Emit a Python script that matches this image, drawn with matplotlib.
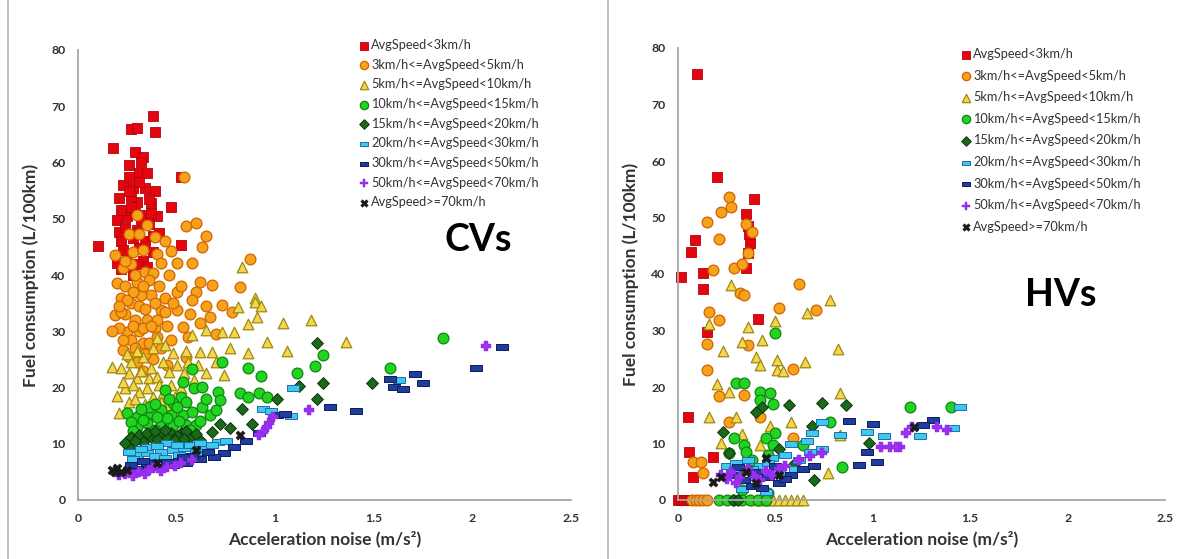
import matplotlib
matplotlib.use("Agg")
import matplotlib.pyplot as plt
from matplotlib.path import Path
from matplotlib.lines import Line2D

# ---------------- data ----------------
labels = ["AvgSpeed<3km/h", "3km/h<=AvgSpeed<5km/h", "5km/h<=AvgSpeed<10km/h",
          "10km/h<=AvgSpeed<15km/h", "15km/h<=AvgSpeed<20km/h", "20km/h<=AvgSpeed<30km/h",
          "30km/h<=AvgSpeed<50km/h", "50km/h<=AvgSpeed<70km/h", "AvgSpeed>=70km/h"]
x_ticks = [0, 0.5, 1, 1.5, 2, 2.5]
x_tick_labels = ["0", "0.5", "1", "1.5", "2", "2.5"]
y_ticks = [0, 10, 20, 30, 40, 50, 60, 70, 80]

# CVs (left panel)
cv_red = [(0.10,45.2),(0.18,62.6),(0.27,66.0),(0.30,66.2),(0.38,68.3),(0.39,65.5),(0.29,61.9),(0.33,61.0),
          (0.26,59.6),(0.31,58.2),(0.35,58.2),(0.23,56.0),(0.28,55.5),(0.39,55.0),(0.21,53.7),(0.30,53.0),
          (0.37,52.8),(0.47,52.0),(0.20,49.8),(0.25,50.4),(0.33,50.7),(0.40,50.4),(0.21,47.7),(0.30,48.0),
          (0.41,47.5),(0.52,45.4),(0.22,46.0),(0.31,44.8),(0.52,57.5),(0.27,54.0),(0.34,55.5),(0.24,51.5),
          (0.36,49.0),(0.28,46.5),(0.34,46.0),(0.38,44.0),(0.25,43.0),(0.33,42.5),(0.22,41.0),(0.28,40.0),
          (0.35,41.5),(0.26,57.5),(0.32,60.0),(0.29,51.0),(0.38,47.0),(0.20,42.2),(0.24,48.5),(0.27,52.0),
          (0.32,50.0),(0.36,53.5),(0.23,44.5),(0.30,42.0),(0.26,55.0),(0.37,51.0),(0.31,56.5),(0.22,51.5)]
cv_orange = [(0.54,57.5),(0.55,48.8),(0.60,49.3),(0.65,47.0),(0.63,45.0),(0.47,44.3),(0.50,42.2),(0.58,42.2),
             (0.87,42.9),(0.82,37.9),(0.30,50.7),(0.35,48.9),(0.26,47.2),(0.31,47.2),(0.39,46.8),(0.19,43.6),
             (0.28,44.1),(0.40,43.8),(0.42,42.2),(0.23,41.3),(0.34,40.6),(0.38,40.4),(0.62,38.8),(0.68,38.3),
             (0.20,38.6),(0.30,38.8),(0.36,39.1),(0.50,37.0),(0.60,37.0),(0.19,32.9),(0.25,29.9),(0.35,32.0),
             (0.42,33.8),(0.50,33.8),(0.53,30.8),(0.23,26.7),(0.33,27.9),(0.47,28.5),(0.67,32.6),(0.73,34.7),
             (0.58,35.6),(0.22,36.0),(0.27,35.0),(0.31,34.5),(0.37,36.5),(0.44,36.0),(0.24,33.0),(0.29,32.0),
             (0.39,30.5),(0.45,31.0),(0.21,30.5),(0.27,28.5),(0.31,30.0),(0.36,28.0),(0.42,27.0),(0.26,25.5),
             (0.30,24.5),(0.38,25.0),(0.56,29.0),(0.62,31.5),(0.65,34.5),(0.70,29.5),(0.78,33.5),(0.55,25.5),
             (0.45,24.0),(0.33,23.0),(0.41,38.0),(0.46,40.0),(0.27,42.0),(0.32,36.5),(0.17,30.0),
             (0.24,38.0),(0.28,37.0),(0.33,38.0),(0.39,35.0),(0.29,40.0),(0.25,35.5),(0.34,34.0),(0.40,32.0),
             (0.22,33.5),(0.28,31.0),(0.33,30.5),(0.37,31.0),(0.23,28.5),(0.29,27.0),(0.34,26.0),(0.40,29.0),
             (0.44,33.5),(0.48,35.0),(0.52,38.0),(0.57,33.0),(0.24,42.5),(0.33,44.5),(0.44,46.0),(0.21,34.5)]
cv_tri = [(0.83,41.5),(0.90,35.9),(0.81,34.3),(0.90,35.2),(0.93,34.5),(0.86,31.3),(0.91,32.6),(1.04,31.5),
          (1.18,32.0),(1.36,28.1),(0.96,28.1),(1.06,26.5),(0.77,27.0),(0.86,26.2),(0.73,29.9),(0.79,29.9),
          (0.68,26.3),(0.62,26.3),(0.55,26.5),(0.48,26.2),(0.17,23.7),(0.22,23.5),(0.74,22.2),(0.54,22.6),
          (0.59,21.4),(0.30,21.7),(0.36,21.7),(0.40,21.9),(0.46,22.8),(0.24,19.9),(0.31,19.2),(0.38,18.3),
          (0.43,19.0),(0.49,18.3),(0.21,15.5),(0.31,16.0),(0.40,28.8),(0.58,29.4),(0.65,30.2),(0.27,24.5),
          (0.33,25.5),(0.43,24.5),(0.28,20.5),(0.35,20.0),(0.26,17.5),(0.34,17.0),(0.45,16.5),(0.52,20.0),
          (0.61,24.0),(0.70,24.5),(0.50,24.0),(0.26,22.5),(0.32,23.0),(0.23,21.0),(0.29,18.0),(0.37,23.5),
          (0.41,20.5),(0.47,20.5),(0.25,26.0),(0.30,26.5),(0.38,27.0),(0.44,27.5),(0.56,24.5),(0.65,22.5),
          (0.20,18.5),(0.35,15.5),(0.42,17.5)]
cv_green = [(0.58,23.3),(0.73,24.6),(0.86,23.5),(0.93,22.1),(1.11,22.6),(1.20,23.8),(1.24,25.8),(0.53,21.0),
            (0.59,19.9),(0.63,20.1),(0.71,19.2),(0.72,17.8),(0.82,19.0),(0.86,18.3),(0.92,19.0),(0.96,18.3),
            (0.44,19.6),(0.52,18.3),(0.48,17.2),(0.63,16.5),(0.67,15.1),(0.70,16.0),(0.25,15.5),(0.30,14.8),
            (0.37,15.5),(0.42,16.0),(0.47,15.1),(0.53,15.1),(0.58,15.7),(0.35,13.7),(0.42,13.7),(0.48,13.3),
            (0.55,13.3),(0.60,13.3),(0.30,13.0),(0.39,12.5),(1.85,28.8),(1.58,23.5),(0.33,14.2),(0.45,14.5),
            (0.51,14.0),(0.57,12.5),(0.40,14.8),(0.27,13.8),(0.36,16.5),(0.62,14.0),(0.55,17.5),(0.46,18.0),
            (0.50,16.5),(0.65,18.0),(0.39,17.0),(0.32,16.2),(0.28,12.3)]
cv_dgreen = [(1.21,27.9),(1.24,20.8),(1.21,18.0),(1.12,20.3),(1.01,18.0),(0.83,16.2),(0.77,12.8),(0.68,12.1),
             (0.62,10.7),(0.27,11.2),(0.31,11.6),(0.37,11.2),(0.42,11.6),(0.47,11.9),(0.52,11.9),(0.57,11.2),
             (0.33,10.3),(0.26,9.4),(1.49,20.8),(0.29,10.5),(0.35,12.0),(0.40,10.8),(0.45,11.0),(0.50,11.3),
             (0.55,12.2),(0.60,11.8),(0.72,13.5),(0.88,13.5),(0.24,10.2),(0.39,12.3),(0.44,12.5),(0.49,10.6),
             (0.54,10.8)]
cv_lblue = [(1.09,19.9),(0.94,16.2),(1.08,15.0),(0.71,10.3),(0.30,8.0),(0.35,8.4),(0.42,8.5),(0.48,8.9),
            (0.54,9.2),(0.60,8.5),(0.65,9.2),(0.35,9.4),(0.45,10.1),(1.63,21.4),(0.28,7.3),(0.39,7.8),
            (0.51,8.0),(0.57,9.8),(0.68,9.8),(0.75,10.5),(0.98,15.8),(0.32,9.0),(0.44,7.5),(0.40,9.6),
            (0.50,9.7),(0.26,8.6),(0.62,10.2)]
cv_dblue = [(1.28,16.5),(1.41,15.8),(0.92,11.9),(0.79,9.4),(0.74,8.4),(0.69,7.7),(0.62,7.3),(0.55,6.6),
            (0.48,6.2),(0.42,5.9),(0.35,6.0),(1.01,15.1),(1.58,21.5),(1.60,20.1),(1.65,19.7),(1.71,22.4),
            (1.75,20.8),(2.02,23.5),(2.15,27.2),(0.30,5.5),(0.38,6.5),(0.51,7.0),(0.58,7.8),(0.66,8.5),
            (0.85,10.5),(1.05,15.3),(0.45,6.8),(0.53,7.6),(0.27,6.3),(0.33,7.0)]
cv_purple = [(1.17,16.0),(0.99,14.8),(0.97,13.7),(0.96,13.0),(0.94,12.1),(0.21,4.4),(0.26,5.0),(0.31,5.0),
             (0.38,5.7),(0.45,5.9),(0.52,6.6),(0.58,7.1),(2.07,27.4),(0.92,11.5),(0.34,4.6),(0.42,5.2),
             (0.28,4.2),(0.49,6.0),(0.24,4.6),(0.36,5.3)]
cv_black = [(0.17,5.3),(0.20,5.7),(0.25,5.3),(0.82,11.6),(0.60,8.9),(0.40,6.6),(0.22,5.0),(0.19,5.0)]

# HVs (right panel)
hv_red = [(0.10,75.4),(0.20,57.2),(0.39,53.3),(0.35,50.6),(0.37,45.5),(0.36,43.7),(0.087,46.0),(0.067,43.9),
          (0.35,41.1),(0.13,40.2),(0.015,39.5),(0.13,37.3),(0.41,32.0),(0.15,29.7),(0.05,14.7),(0.056,8.5),
          (0.18,7.6),(0.077,4.1),(0.36,48.5),(0.365,47.0),(0.0,0),(0.015,0),(0.03,0),(0.045,0),(0.06,0)]
hv_orange = [(0.26,53.6),(0.27,51.9),(0.22,51.0),(0.15,49.2),(0.35,48.8),(0.38,47.4),(0.21,46.2),(0.36,43.7),
             (0.18,40.7),(0.29,41.1),(0.33,41.8),(0.62,38.2),(0.52,34.0),(0.71,33.6),(0.16,33.3),(0.21,31.9),
             (0.15,27.6),(0.36,27.4),(0.15,23.0),(0.59,23.2),(0.21,18.4),(0.34,18.6),(0.26,13.8),(0.42,14.7),
             (0.59,11.0),(0.077,6.7),(0.12,6.7),(0.13,4.8),(0.32,36.6),(0.34,36.2),
             (0.07,0),(0.09,0),(0.11,0),(0.13,0),(0.15,0)]
hv_tri = [(0.27,38.0),(0.78,35.4),(0.66,33.1),(0.50,31.7),(0.36,30.6),(0.16,31.2),(0.43,28.3),(0.33,28.0),
          (0.23,26.4),(0.82,26.7),(0.40,25.3),(0.51,24.8),(0.65,24.4),(0.42,23.9),(0.51,23.0),(0.54,22.8),
          (0.20,20.5),(0.26,19.1),(0.83,18.9),(0.16,14.7),(0.30,14.7),(0.58,13.8),(0.47,13.1),(0.33,11.7),
          (0.22,10.1),(0.42,9.7),(0.83,11.5),(0.77,4.8),
          (0.40,0),(0.43,0),(0.46,0),(0.49,0),(0.52,0),(0.55,0),(0.58,0),(0.61,0),(0.64,0)]
hv_green = [(0.50,29.6),(0.30,20.7),(0.34,20.7),(0.42,19.1),(0.47,18.9),(0.42,17.7),(0.49,17.0),(0.78,13.8),
            (0.50,11.9),(0.29,11.0),(0.45,11.0),(0.34,9.7),(0.49,9.7),(0.64,9.7),(0.35,8.5),(0.26,8.3),
            (0.38,7.1),(0.46,8.0),(0.84,5.8),(1.19,16.5),(1.40,16.5),(0.33,1.8),(0.46,1.2),
            (0.21,0),(0.25,0),(0.29,0),(0.33,0),(0.37,0),(0.41,0),(0.45,0)]
hv_dgreen = [(0.57,16.8),(0.74,17.2),(0.86,16.8),(0.43,16.5),(0.69,13.1),(0.23,12.0),(0.98,10.1),(0.26,8.3),
             (0.70,3.5),(0.40,15.5),(0.52,9.0),(0.60,6.5),(0.33,5.5),(0.28,0),(0.31,0)]
hv_lblue = [(0.74,13.8),(0.97,12.0),(1.06,11.3),(0.83,11.5),(0.69,11.9),(1.45,16.5),(1.41,12.7),(1.24,11.3),
            (0.25,6.0),(0.30,6.5),(0.36,7.0),(0.42,6.0),(0.48,7.5),(0.55,8.0),(0.62,7.0),(0.68,8.5),
            (0.74,9.0),(0.40,4.0),(0.52,5.0),(0.58,10.0),(0.33,2.0),(0.45,1.5),(0.28,4.8),(0.38,5.5),
            (0.46,6.5),(0.60,5.5),(0.66,10.5)]
hv_dblue = [(0.88,14.0),(1.00,13.5),(0.93,6.2),(1.02,6.7),(0.97,8.5),(1.31,14.2),(1.26,13.3),
            (0.28,4.5),(0.34,3.5),(0.40,5.0),(0.46,4.0),(0.52,3.0),(0.58,4.5),(0.64,5.5),(0.70,6.0),
            (0.38,2.5),(0.50,6.0),(0.31,5.8),(0.43,2.2),(0.55,3.8)]
hv_purple = [(1.17,11.9),(1.20,13.0),(1.33,13.0),(1.38,12.4),(1.14,9.4),(1.04,9.4),(1.09,9.4),(1.12,9.4),
             (0.74,8.3),(0.22,4.5),(0.27,5.0),(0.32,4.0),(0.36,5.5),(0.42,3.5),(0.48,4.5),(0.55,6.0),
             (0.62,7.0),(0.30,3.0),(0.25,3.8),(0.39,4.2),(0.45,5.2),(0.52,5.5),(0.68,7.8)]
hv_black = [(0.18,3.2),(0.22,4.1),(1.21,13.0),(0.35,5.0),(0.45,7.5),(0.52,4.5),(0.40,3.0)]

cv_series = [cv_red, cv_orange, cv_tri, cv_green, cv_dgreen, cv_lblue, cv_dblue, cv_purple, cv_black]
hv_series = [hv_red, hv_orange, hv_tri, hv_green, hv_dgreen, hv_lblue, hv_dblue, hv_purple, hv_black]

# ---------------- styles ----------------
dash = Path([(-1, -0.42), (1, -0.42), (1, 0.42), (-1, 0.42), (-1, -0.42)],
            [Path.MOVETO, Path.LINETO, Path.LINETO, Path.LINETO, Path.CLOSEPOLY])
styles = [
    dict(marker='s', s=50, facecolor='#E3060F', edgecolor='#B5000A', linewidths=0.6),
    dict(marker='o', s=60, facecolor='#F7A21B', edgecolor='#D06400', linewidths=0.9),
    dict(marker='^', s=58, facecolor='#F6D54A', edgecolor='#9C8A12', linewidths=0.9),
    dict(marker='o', s=60, facecolor='#22D422', edgecolor='#118411', linewidths=0.9),
    dict(marker='D', s=36, facecolor='#1B6A1B', edgecolor='#0B340B', linewidths=0.7),
    dict(marker=dash, s=75, facecolor='#40C8EE', edgecolor='#1D6EA8', linewidths=0.7),
    dict(marker=dash, s=75, facecolor='#203C9C', edgecolor='#0C1D5C', linewidths=0.7),
    dict(marker='P', s=60, facecolor='#9B30F0', edgecolor='#8A22E0', linewidths=0.3),
    dict(marker='X', s=45, facecolor='#1A1A1A', edgecolor='#1A1A1A', linewidths=0.3),
]
legend_sizes = [30, 36, 36, 36, 24, 40, 40, 36, 30]

FONT = 'Lato'
TXT = '#333333'

fig = plt.figure(figsize=(11.98, 5.59), dpi=100)
fig.patch.set_facecolor('white')

axL = fig.add_axes([78/1198, 59/559, 493/1198, 450/559])
axR = fig.add_axes([678/1198, 59/559, 487/1198, 452/559])

def setup(ax, series, legend_anchor, spacing, big, big_xy):
    handles = []
    for pts, st, lab in zip(series, styles, labels):
        xs = [p[0] for p in pts]
        ys = [p[1] for p in pts]
        h = ax.scatter(xs, ys, clip_on=False, label=lab, **st)
        handles.append(h)
    ax.set_xlim(0, 2.5)
    ax.set_ylim(0, 80)
    for sp in ['top', 'right']:
        ax.spines[sp].set_visible(False)
    for sp in ['left', 'bottom']:
        ax.spines[sp].set_color('#A6A6A6')
        ax.spines[sp].set_linewidth(1.3)
    ax.set_xticks(x_ticks)
    ax.set_xticklabels(x_tick_labels)
    ax.set_yticks(y_ticks)
    ax.tick_params(length=0, pad=9, labelsize=8.8, labelcolor=TXT)
    for t in ax.get_xticklabels() + ax.get_yticklabels():
        t.set_fontfamily(FONT)
        t.set_fontweight('bold')
    ax.set_xlabel("Acceleration noise (m/s²)", fontfamily=FONT, fontweight='bold',
                  fontsize=12.5, color=TXT, labelpad=5)
    ax.set_ylabel("Fuel consumption (L/100km)", fontfamily=FONT, fontweight='bold',
                  fontsize=12.5, color=TXT, labelpad=9)
    leg = ax.legend(handles=handles, loc='upper left', bbox_to_anchor=legend_anchor,
                    bbox_transform=fig.transFigure, frameon=False, scatterpoints=1,
                    handletextpad=0.15, handlelength=0.9, borderpad=0, borderaxespad=0,
                    labelspacing=spacing, prop={'family': FONT, 'size': 9.2})
    for hnd, sz in zip(leg.legend_handles, legend_sizes):
        hnd.set_sizes([sz])
    for t in leg.get_texts():
        t.set_color(TXT)
    ax.text(big_xy[0], big_xy[1], big, transform=fig.transFigure, ha='center', va='center',
            fontfamily=FONT, fontweight='bold', fontsize=27, color='black')

setup(axL, cv_series, (358/1198, 1 - 39/559), 0.60, "CVs", (478/1198, 1 - 240/559))
setup(axR, hv_series, (960/1198, 1 - 48/559), 0.75, "HVs", (1061/1198, 1 - 295/559))

fig.add_artist(Line2D([8/1198, 8/1198], [0, 1], transform=fig.transFigure, color='#B4B4B4', lw=1.2))
fig.add_artist(Line2D([608/1198, 608/1198], [0, 1], transform=fig.transFigure, color='#B4B4B4', lw=1.2))

fig.savefig('out.png', dpi=100, facecolor='white')
